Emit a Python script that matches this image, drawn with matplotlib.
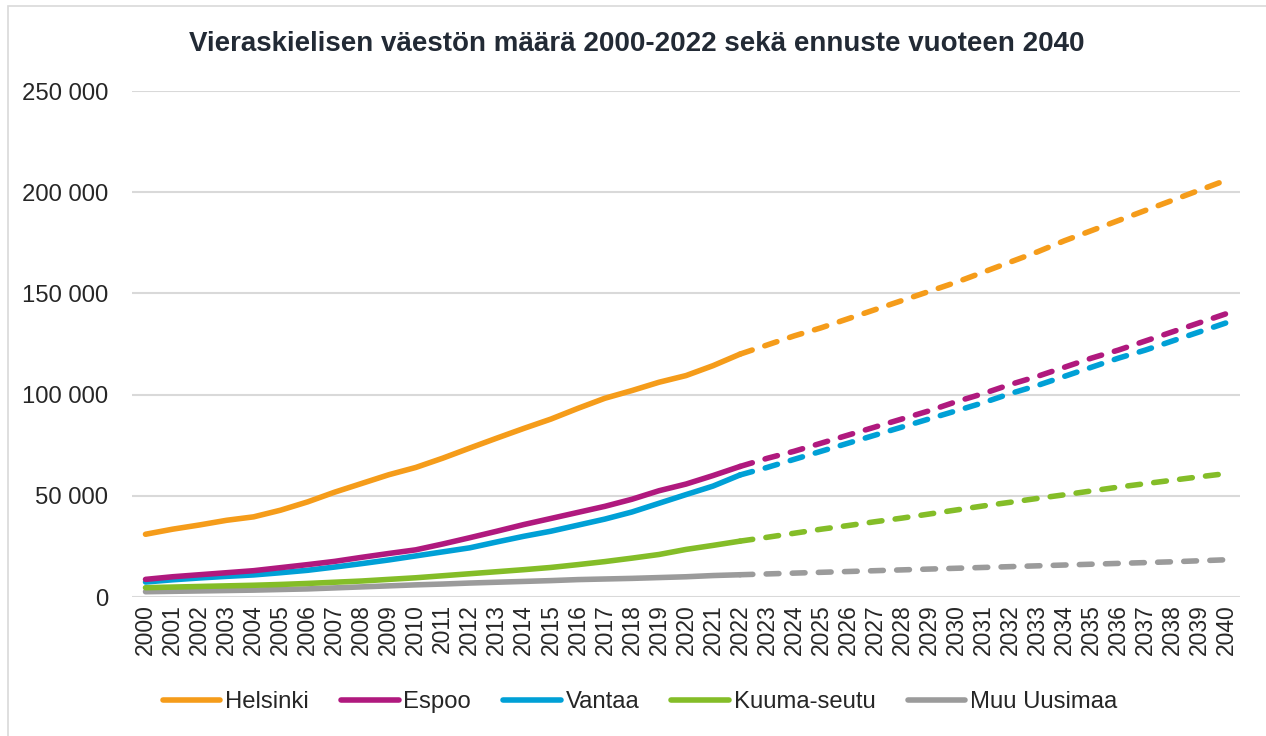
#!/usr/bin/env python3
"""
Vieraskielisen vaeston maara 2000-2022 seka ennuste vuoteen 2040.
"""

import matplotlib
matplotlib.use('Agg')
import matplotlib.pyplot as plt
from matplotlib.patches import Rectangle
from matplotlib.lines import Line2D

plt.rcParams.update({
    'font.family': ['Liberation Sans', 'DejaVu Sans'],
    'font.size': 17,
    'text.color': '#262626',
    'xtick.color': '#262626',
    'ytick.color': '#262626',
})

# Data
YEARS_HIST = list(range(2000, 2023))
YEARS_FC = list(range(2022, 2041))

helsinki_hist = [31000, 33500, 35600, 37900, 39600, 42900, 47000, 51800, 56100, 60400,
                 64000, 68600, 73600, 78500, 83300, 87900, 93200, 98200, 102000, 106100,
                 109400, 114300, 120000]
espoo_hist = [8700, 10000, 11000, 12000, 13000, 14500, 16000, 17600, 19600, 21500,
              23300, 26200, 29300, 32500, 35800, 38800, 41800, 44800, 48300, 52500,
              55800, 60000, 64500]
vantaa_hist = [7400, 8500, 9400, 10200, 10900, 12000, 13200, 14800, 16500, 18300,
               20300, 22300, 24300, 27200, 30000, 32500, 35500, 38500, 42000, 46300,
               50600, 54800, 60300]
kuuma_hist = [4600, 4900, 5200, 5500, 5800, 6200, 6700, 7300, 7900, 8700,
              9500, 10500, 11500, 12500, 13500, 14600, 16000, 17500, 19200, 21000,
              23500, 25500, 27600]
muu_hist = [2600, 2800, 3000, 3200, 3400, 3700, 4000, 4500, 5000, 5500,
            6000, 6400, 6900, 7300, 7700, 8100, 8600, 8900, 9200, 9600,
            10000, 10600, 11000]

helsinki_fc = [120000, 124500, 129000, 133000, 137500, 142000, 146500, 151000, 155500, 160500,
               165500, 170500, 176000, 181000, 186000, 191000, 196000, 201000, 206000]
espoo_fc = [64500, 68500, 72000, 76000, 80000, 84000, 88000, 92000, 96500, 100500,
            105000, 109000, 113500, 118000, 122000, 126500, 131000, 135500, 140000]
vantaa_fc = [60300, 64000, 68000, 72000, 76000, 80000, 84000, 88000, 92000, 96000,
             100500, 104500, 109000, 113500, 118000, 122000, 126500, 131000, 135500]
kuuma_fc = [27600, 29500, 31500, 33500, 35300, 37200, 39000, 41000, 43000, 45000,
            46800, 48700, 50500, 52400, 54300, 56000, 57700, 59400, 61000]
muu_fc = [11000, 11400, 11800, 12200, 12600, 13000, 13400, 13800, 14200, 14600,
          15000, 15400, 15800, 16200, 16600, 17000, 17400, 17900, 18400]

SERIES = [
    ('Helsinki', '#F59C1A', helsinki_hist, helsinki_fc),
    ('Espoo', '#B0197E', espoo_hist, espoo_fc),
    ('Vantaa', '#00A0D6', vantaa_hist, vantaa_fc),
    ('Kuuma-seutu', '#84BD28', kuuma_hist, kuuma_fc),
    ('Muu Uusimaa', '#9B9B9B', muu_hist, muu_fc),
]

Y_TICKS = [0, 50000, 100000, 150000, 200000, 250000]
Y_LABELS = ['0', '50 000', '100 000', '150 000', '200 000', '250 000']

fig = plt.figure(figsize=(12.66, 7.36), dpi=100)
ax = fig.add_axes([132 / 1266, 1 - 597 / 736, (1240 - 132) / 1266, (597 - 91) / 736])

# light frame around the chart
fig.patches.append(Rectangle((8 / 1266, -0.1), 1.2, 1 - 6 / 736 + 0.1,
                             transform=fig.transFigure, fill=False,
                             edgecolor='#d9d9d9', linewidth=1.2))

lw = 4.0
for name, color, hist, fc in SERIES[::-1]:
    ax.plot(YEARS_FC, fc, color=color, linewidth=lw, linestyle=(0, (2.3, 2.4)),
            dash_capstyle='round', solid_capstyle='round')
    ax.plot(YEARS_HIST, hist, color=color, linewidth=lw,
            solid_capstyle='round', solid_joinstyle='round')

ax.set_xlim(1999.5, 2040.5)
ax.set_ylim(0, 250000)
ax.set_yticks(Y_TICKS)
ax.set_yticklabels(Y_LABELS)
ax.set_xticks(range(2000, 2041))
ax.set_xticklabels([str(y) for y in range(2000, 2041)], rotation=90)
ax.tick_params(axis='y', length=0, pad=17, labelsize=17.2)
ax.tick_params(axis='x', length=0, pad=5, labelsize=16.5)

ax.grid(axis='y', color='#d9d9d9', linewidth=1.5)
ax.set_axisbelow(True)
for s in ax.spines.values():
    s.set_visible(False)

fig.text(637 / 1266, 1 - 44 / 736,
         'Vieraskielisen väestön määrä 2000-2022 sekä ennuste vuoteen 2040',
         ha='center', va='center', fontsize=20, fontweight='bold', color='#222a35')

handles = [Line2D([0], [0], color=c, linewidth=lw, solid_capstyle='round')
           for _, c, _, _ in SERIES]
fig.legend(handles, [n for n, _, _, _ in SERIES], loc='center',
           bbox_to_anchor=(640 / 1266, 1 - 702 / 736), ncol=5, frameon=False,
           fontsize=17.2, handlelength=2.4, handletextpad=0.2, columnspacing=1.35)

fig.savefig('out.png', dpi=100)
